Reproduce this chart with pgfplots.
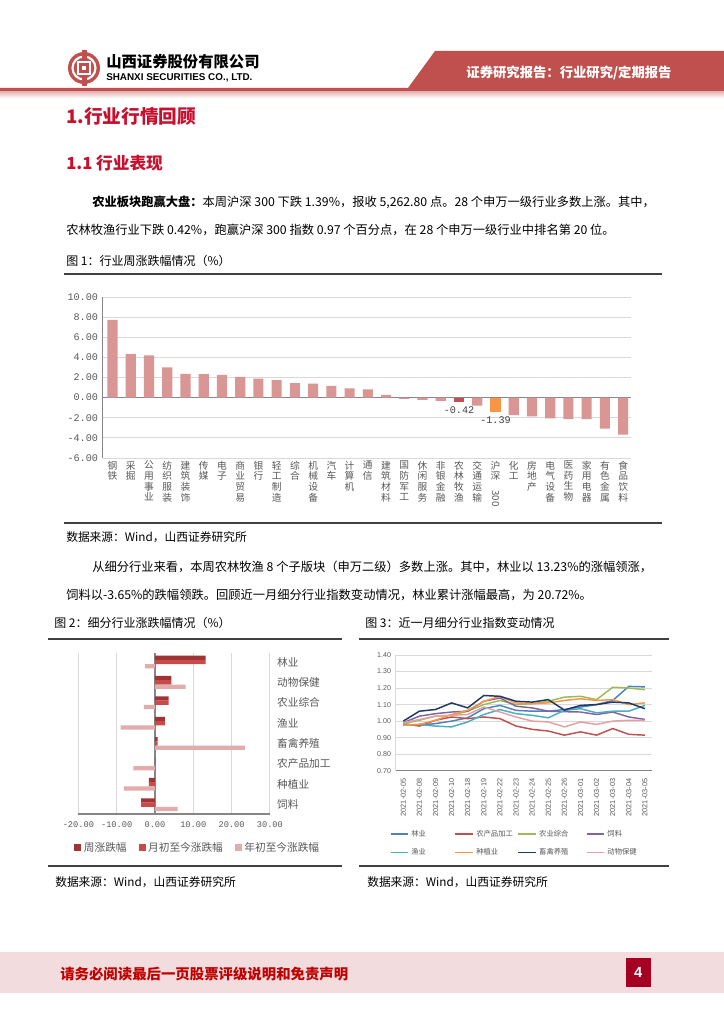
\documentclass[border=0pt]{standalone}
\usepackage{pgfplots}
\pgfplotsset{compat=1.18}
\usepackage{graphicx}
\usepackage{fontspec}
\setmainfont{Noto Sans CJK SC}
\newfontfamily\monof{Liberation Mono}
\newfontfamily\arialf{Liberation Sans}

\definecolor{hdrred}{RGB}{192,80,77}
\definecolor{ttlred}{RGB}{200,16,46}
\definecolor{ftpink}{RGB}{242,220,221}
\definecolor{ftred}{RGB}{192,0,0}
\definecolor{pgbox}{RGB}{165,0,33}
\definecolor{rulec}{RGB}{64,64,64}
\definecolor{barpink}{RGB}{218,150,148}
\definecolor{agred}{RGB}{192,80,77}
\definecolor{hsorg}{RGB}{247,150,70}
\definecolor{wk}{RGB}{160,52,52}
\definecolor{mo}{RGB}{200,75,75}
\definecolor{yr}{RGB}{226,172,172}
\definecolor{ticktxt}{RGB}{89,89,89}
\definecolor{gridc}{RGB}{217,217,217}
\definecolor{axc}{RGB}{134,134,134}
\definecolor{lnA}{RGB}{79,129,189}
\definecolor{lnB}{RGB}{192,80,77}
\definecolor{lnC}{RGB}{155,187,89}
\definecolor{lnD}{RGB}{128,100,162}
\definecolor{lnE}{RGB}{75,172,198}
\definecolor{lnF}{RGB}{247,150,70}
\definecolor{lnG}{RGB}{31,56,100}
\definecolor{lnH}{RGB}{230,160,160}

\pgfplotsset{sqlegend/.style={legend image code/.code={\fill[##1] (0pt,-2.6pt) rectangle (5.2pt,2.6pt);}}}

\begin{document}
\begin{tikzpicture}
\begin{scope}[x=0.75pt,y=-0.75pt]
\useasboundingbox (0,0) rectangle (724,1024);
\fill[white] (0,0) rectangle (724,1024);
% header
\fill[hdrred] (435,51) -- (724,51) -- (724,92) -- (0,92) -- (0,88) -- (408,88) -- cycle;
\shade[top color=hdrred!40, bottom color=white] (0,92) rectangle (724,98);
\fill[hdrred] (84,68) circle (16);
\draw[white, line width=1.6] (84,68) circle (11.5);
\fill[hdrred] (81.5,50) rectangle (86.5,60);
\fill[hdrred] (81.5,76) rectangle (86.5,86);
\draw[white, line width=1.6] (78,62) rectangle (90,74);
\fill[white] (82,66) rectangle (86,70);
\node[anchor=west, inner sep=0, font=\bfseries\fontsize{11.5}{12}\selectfont] at (106,62) {山西证券股份有限公司};
\node[anchor=west, inner sep=0, font=\arialf\bfseries\fontsize{7.4}{8}\selectfont] at (106,78) {SHANXI SECURITIES CO., LTD.};
\node[inner sep=0, text=white, font=\bfseries\fontsize{10}{11}\selectfont] at (569,72.5) {证券研究报告：行业研究/定期报告};
% titles and text
\node[anchor=west, inner sep=0, text=ttlred, font=\bfseries\fontsize{14}{15}\selectfont] at (66,117) {1.行业行情回顾};
\node[anchor=west, inner sep=0, text=ttlred, font=\bfseries\fontsize{12.5}{14}\selectfont] at (66,163) {1.1 行业表现};
\node[anchor=west, inner sep=0, font=\fontsize{9.2}{10}\selectfont] at (92,202) {\textbf{农业板块跑赢大盘：}本周沪深 300 下跌 1.39\%，报收 5,262.80 点。28 个申万一级行业多数上涨。其中，};
\node[anchor=west, inner sep=0, font=\fontsize{9.2}{10}\selectfont] at (66,230) {农林牧渔行业下跌 0.42\%，跑赢沪深 300 指数 0.97 个百分点，在 28 个申万一级行业中排名第 20 位。};
\node[anchor=west, inner sep=0, font=\fontsize{9}{10}\selectfont] at (66,261) {图 1：行业周涨跌幅情况（\%）};
\draw[rulec, line width=0.9] (64,274) -- (662,274);
\draw[rulec, line width=0.9] (64,523) -- (662,523);
\node[anchor=west, inner sep=0, font=\fontsize{8.8}{10}\selectfont] at (66,537) {数据来源：Wind，山西证券研究所};
\node[anchor=west, inner sep=0, font=\fontsize{9.2}{10}\selectfont] at (92,567) {从细分行业来看，本周农林牧渔 8 个子版块（申万二级）多数上涨。其中，林业以 13.23\%的涨幅领涨，};
\node[anchor=west, inner sep=0, font=\fontsize{9.2}{10}\selectfont] at (66,595) {饲料以-3.65\%的跌幅领跌。回顾近一月细分行业指数变动情况，林业累计涨幅最高，为 20.72\%。};
\node[anchor=west, inner sep=0, font=\fontsize{9}{10}\selectfont] at (54,623) {图 2：细分行业涨跌幅情况（\%）};
\node[anchor=west, inner sep=0, font=\fontsize{9}{10}\selectfont] at (365,623) {图 3：近一月细分行业指数变动情况};
\draw[rulec, line width=0.9] (48,639) -- (342,639);
\draw[rulec, line width=0.9] (359,639) -- (669,639);
\draw[rulec, line width=0.9] (48,866) -- (342,866);
\draw[rulec, line width=0.9] (359,866) -- (669,866);
\node[anchor=west, inner sep=0, font=\fontsize{8.8}{10}\selectfont] at (55,882) {数据来源：Wind，山西证券研究所};
\node[anchor=west, inner sep=0, font=\fontsize{8.8}{10}\selectfont] at (367,882) {数据来源：Wind，山西证券研究所};
% footer
\fill[ftpink] (0,952) rectangle (724,993);
\node[anchor=west, inner sep=0, text=ftred, font=\bfseries\fontsize{10.8}{12}\selectfont] at (60,974) {请务必阅读最后一页股票评级说明和免责声明};
\fill[pgbox] (625.5,957.5) rectangle (651,986.5);
\node[text=white, inner sep=0, font=\arialf\bfseries\fontsize{11}{12}\selectfont] at (638.3,972) {4};
% axis anchors
\coordinate (A) at (102.7,458);
\coordinate (B) at (78.4,814);
\coordinate (C) at (395.7,770.7);
\end{scope}

% Figure 1
\begin{axis}[at={(A)}, anchor=south west, scale only axis,
  width=396.2pt, height=120.75pt,
  xmin=-0.54, xmax=28.43, ymin=-6, ymax=10,
  axis x line*=bottom, axis y line*=left,
  x axis line style={draw=none}, y axis line style={draw=axc},
  major tick length=0pt,
  ytick={-6,-4,...,10},
  ymajorgrids, grid style={gridc, line width=0.6pt},
  extra y ticks={0}, extra y tick labels={},
  extra y tick style={grid style={axc, line width=0.9pt}},
  yticklabel style={font=\monof\fontsize{7.6}{8}\selectfont, text=ticktxt,
    /pgf/number format/.cd, fixed, fixed zerofill, precision=2, assume math mode=true},
  xtick={0,...,28},
  xticklabels={{钢\\铁},{采\\掘},{公\\用\\事\\业},{纺\\织\\服\\装},{建\\筑\\装\\饰},{传\\媒},{电\\子},{商\\业\\贸\\易},{银\\行},{轻\\工\\制\\造},{综\\合},{机\\械\\设\\备},{汽\\车},{计\\算\\机},{通\\信},{建\\筑\\材\\料},{国\\防\\军\\工},{休\\闲\\服\\务},{非\\银\\金\\融},{农\\林\\牧\\渔},{交\\通\\运\\输},{沪\\深\\\rotatebox{-90}{300}},{化\\工},{房\\地\\产},{电\\气\\设\\备},{医\\药\\生\\物},{家\\用\\电\\器},{有\\色\\金\\属},{食\\品\\饮\\料}},
  xticklabel style={align=center, font=\fontsize{7.3}{8}\selectfont, text=ticktxt, inner sep=1pt, yshift=-1pt},
  clip=false]
\addplot[ybar, bar width=7.6pt, bar shift=0pt, fill=barpink, draw=none] coordinates {
  (0,7.73) (1,4.33) (2,4.20) (3,3.00) (4,2.37) (5,2.33) (6,2.27) (7,2.07)
  (8,1.90) (9,1.73) (10,1.43) (11,1.40) (12,1.17) (13,0.93) (14,0.83)
  (15,0.27) (16,-0.13) (17,-0.23) (18,-0.33) (20,-0.80)
  (22,-1.73) (23,-1.87) (24,-2.07) (25,-2.13) (26,-2.13) (27,-3.07) (28,-3.67)};
\addplot[ybar, bar width=7.6pt, bar shift=0pt, fill=agred, draw=none,
  nodes near coords, nodes near coords style={anchor=north, font=\monof\fontsize{7.6}{8}\selectfont, text=rulec,
    /pgf/number format/.cd, fixed, fixed zerofill, precision=2, assume math mode=true}]
  coordinates {(19,-0.42)};
\addplot[ybar, bar width=7.6pt, bar shift=0pt, fill=hsorg, draw=none,
  nodes near coords, nodes near coords style={anchor=north, font=\monof\fontsize{7.6}{8}\selectfont, text=rulec,
    /pgf/number format/.cd, fixed, fixed zerofill, precision=2, assume math mode=true}]
  coordinates {(21,-1.39)};
\end{axis}

% Figure 2
\begin{axis}[at={(B)}, anchor=south west, scale only axis,
  width=143.6pt, height=121pt,
  xmin=-20, xmax=30, ymin=-0.456, ymax=7.456,
  axis x line*=bottom, axis y line*=right,
  x axis line style={draw=axc, line width=0.9pt}, y axis line style={draw=none},
  major tick length=0pt,
  xtick={-20,-10,...,30}, xmajorgrids, grid style={gridc, line width=0.6pt},
  extra x ticks={0}, extra x tick labels={},
  extra x tick style={grid style={axc, line width=0.9pt}},
  xticklabel style={font=\monof\fontsize{6.5}{8}\selectfont, text=ticktxt, yshift=-2.5pt,
    /pgf/number format/.cd, fixed, fixed zerofill, precision=2, assume math mode=true},
  ytick={0,...,7},
  yticklabels={饲料,种植业,农产品加工,畜禽养殖,渔业,农业综合,动物保健,林业},
  yticklabel style={anchor=west, font=\fontsize{8}{9}\selectfont, text=ticktxt, xshift=2pt},
  legend columns=3,
  legend style={draw=none, at={(0.625,-0.21)}, anchor=center, font=\fontsize{8}{9}\selectfont,
    text=ticktxt, /tikz/every even column/.append style={column sep=7pt}},
  clip=false]
\addplot[xbar, bar width=3.2pt, bar shift=3.2pt, fill=wk, draw=none, sqlegend] coordinates {
  (-3.65,0) (-1.57,1) (0.1,2) (0.7,3) (2.6,4) (3.57,5) (4.27,6) (13.23,7)};
\addlegendentry{周涨跌幅}
\addplot[xbar, bar width=3.2pt, bar shift=0pt, fill=mo, draw=none, sqlegend] coordinates {
  (-3.65,0) (-1.57,1) (0.1,2) (0.7,3) (2.6,4) (3.57,5) (4.27,6) (13.23,7)};
\addlegendentry{月初至今涨跌幅}
\addplot[xbar, bar width=3.2pt, bar shift=-3.2pt, fill=yr, draw=none, sqlegend] coordinates {
  (5.9,0) (-8.1,1) (-5.65,2) (23.5,3) (-8.96,4) (-2.9,5) (8.0,6) (-2.6,7)};
\addlegendentry{年初至今涨跌幅}
\end{axis}

% Figure 3
\begin{axis}[at={(C)}, anchor=south west, scale only axis,
  width=192pt, height=86.8pt,
  xmin=-0.47, xmax=15.42, ymin=0.7, ymax=1.4,
  axis x line*=bottom, axis y line*=left,
  x axis line style={draw=axc, line width=0.8pt}, y axis line style={draw=gridc},
  major tick length=0pt,
  ytick={0.7,0.8,0.9,1.0,1.1,1.2,1.3,1.4},
  ymajorgrids, grid style={gridc, line width=0.6pt},
  yticklabel style={font=\arialf\fontsize{5.3}{6}\selectfont, text=ticktxt,
    /pgf/number format/.cd, fixed, fixed zerofill, precision=2, assume math mode=true},
  xtick={0,...,15},
  xticklabels={2021-02-05,2021-02-08,2021-02-09,2021-02-10,2021-02-18,2021-02-19,2021-02-22,2021-02-23,2021-02-24,2021-02-25,2021-02-26,2021-03-01,2021-03-02,2021-03-03,2021-03-04,2021-03-05},
  xticklabel style={rotate=90, anchor=east, font=\arialf\fontsize{5.5}{6}\selectfont, text=ticktxt, xshift=-2.5pt},
  legend columns=4,
  legend style={draw=none, at={(-0.04,-0.465)}, anchor=north west, font=\fontsize{5.5}{6}\selectfont,
    text=ticktxt, row sep=3.6pt, /tikz/every even column/.append style={column sep=0pt}},
  legend image code/.code={\draw[#1, line width=1.2pt] (0pt,0pt) -- (13pt,0pt);},
  every axis plot/.append style={line width=1.1pt}]
\addplot[lnA] coordinates {(0,0.98) (1,0.975) (2,0.985) (3,1.00) (4,1.02) (5,1.075) (6,1.095) (7,1.065) (8,1.06) (9,1.06) (10,1.07) (11,1.085) (12,1.10) (13,1.125) (14,1.21) (15,1.207)};
\addlegendentry{\makebox[30.5pt][l]{林业}}
\addplot[lnB] coordinates {(0,0.985) (1,0.97) (2,1.005) (3,1.025) (4,1.015) (5,1.025) (6,1.015) (7,0.97) (8,0.95) (9,0.94) (10,0.915) (11,0.935) (12,0.915) (13,0.955) (14,0.92) (15,0.915)};
\addlegendentry{\makebox[29pt][l]{农产品加工}}
\addplot[lnC] coordinates {(0,0.985) (1,1.005) (2,1.03) (3,1.035) (4,1.06) (5,1.10) (6,1.125) (7,1.10) (8,1.105) (9,1.12) (10,1.145) (11,1.15) (12,1.13) (13,1.205) (14,1.20) (15,1.19)};
\addlegendentry{\makebox[33pt][l]{农业综合}}
\addplot[lnD] coordinates {(0,0.99) (1,1.03) (2,1.045) (3,1.055) (4,1.06) (5,1.12) (6,1.14) (7,1.09) (8,1.08) (9,1.06) (10,1.057) (11,1.055) (12,1.04) (13,1.055) (14,1.025) (15,1.01)};
\addlegendentry{\makebox[30pt][l]{饲料}}
\addplot[lnE] coordinates {(0,0.975) (1,0.98) (2,0.97) (3,0.965) (4,0.995) (5,1.04) (6,1.07) (7,1.045) (8,1.035) (9,1.02) (10,1.065) (11,1.075) (12,1.05) (13,1.06) (14,1.06) (15,1.095)};
\addlegendentry{\makebox[30.5pt][l]{渔业}}
\addplot[lnF] coordinates {(0,0.975) (1,0.98) (2,1.005) (3,1.04) (4,1.065) (5,1.12) (6,1.15) (7,1.11) (8,1.105) (9,1.11) (10,1.125) (11,1.135) (12,1.125) (13,1.13) (14,1.10) (15,1.11)};
\addlegendentry{\makebox[29pt][l]{种植业}}
\addplot[lnG] coordinates {(0,1.00) (1,1.06) (2,1.07) (3,1.11) (4,1.08) (5,1.155) (6,1.15) (7,1.12) (8,1.115) (9,1.13) (10,1.067) (11,1.095) (12,1.10) (13,1.115) (14,1.11) (15,1.075)};
\addlegendentry{\makebox[33pt][l]{畜禽养殖}}
\addplot[lnH] coordinates {(0,0.99) (1,1.01) (2,1.03) (3,1.035) (4,1.04) (5,1.085) (6,1.055) (7,1.025) (8,1.00) (9,0.995) (10,0.965) (11,0.995) (12,0.98) (13,1.00) (14,1.005) (15,1.005)};
\addlegendentry{\makebox[30pt][l]{动物保健}}
\end{axis}
\end{tikzpicture}
\end{document}
